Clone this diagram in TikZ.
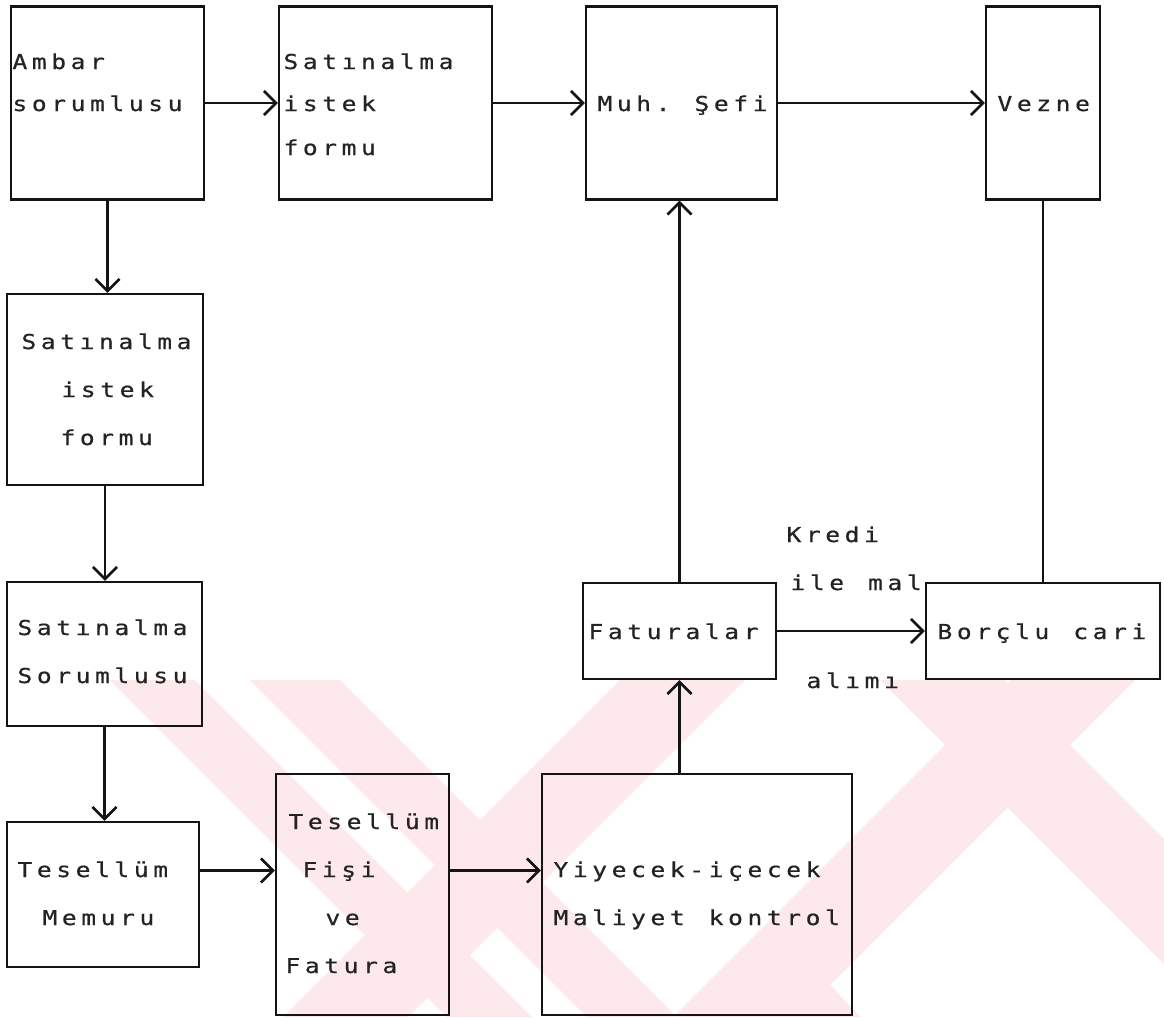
\documentclass[tikz,border=0pt]{standalone}
\usepackage{fontspec}
\usetikzlibrary{arrows.meta}
\newfontfamily\dotfont[FakeStretch=1.2,FakeBold=0.6]{DejaVu Sans Mono}

% fixed-pitch line: every character sits in a cell of equal width
\newlength\cellw \setlength\cellw{19.4pt}
\def\cellEnd{CELLEND}
\def\cells#1{\cellstep#1\cellEnd}
\def\cellstep#1{\ifx#1\cellEnd\else\makebox[\cellw][c]{#1}\expandafter\cellstep\fi}

\definecolor{ink}{RGB}{20,20,20}
\definecolor{txtink}{RGB}{35,35,35}
\definecolor{wmpink}{RGB}{253,232,236}

\tikzset{
  box/.style={draw=ink, line width=2.4pt, rectangle, inner sep=0pt},
  txt/.style={inner sep=0pt, anchor=west, text height=14pt, text depth=0pt,
              text=txtink, font={\dotfont\fontsize{20.5pt}{21pt}\selectfont}},
  arr/.style={draw=ink, line width=2.2pt,
              -{Straight Barb[length=12pt,width=24pt,line width=2.6pt]}},
  link/.style={draw=ink, line width=2.2pt},
}

\begin{document}
\begin{tikzpicture}[x=1pt,y=-1pt]
\fill[white] (0,0) rectangle (1164,1017);
\useasboundingbox (0,0) rectangle (1164,1017);

% faint background stripes
\begin{scope}
\clip (0,680) rectangle (1164,1017);
\fill[wmpink] (110,680) -- (195,680) -- (532,1017) -- (447,1017) -- cycle;
\fill[wmpink] (250,680) -- (340,680) -- (677,1017) -- (587,1017) -- cycle;
\fill[wmpink] (620,680) -- (745,680) -- (408,1017) -- (283,1017) -- cycle;
\fill[wmpink] (880,680) -- (1005,680) -- (1342,1017) -- (1217,1017) -- cycle;
\fill[wmpink] (1010,680) -- (1135,680) -- (798,1017) -- (673,1017) -- cycle;
\fill[wmpink] (780,930) -- (860,1017) -- (700,1017) -- cycle;
\end{scope}

% boxes
\node[box, minimum width=193pt, minimum height=193pt] (amb)  at (107.5,103) {};
\node[box, minimum width=213pt, minimum height=193pt] (sat1) at (385.5,103) {};
\node[box, minimum width=191pt, minimum height=193pt] (muh)  at (681.5,103) {};
\node[box, minimum width=114pt, minimum height=193pt] (vez)  at (1043,103) {};
\node[box, minimum width=196pt, minimum height=191pt] (sat2) at (105,389.5) {};
\node[box, minimum width=195pt, minimum height=144pt] (sats) at (104.5,654) {};
\node[box, minimum width=192pt, minimum height=145pt] (tes)  at (103,894.5) {};
\node[box, minimum width=173pt, minimum height=241pt] (fis)  at (362.5,894.5) {};
\node[box, minimum width=310pt, minimum height=241pt] (yiy)  at (697,894.5) {};
\node[box, minimum width=193pt, minimum height=96pt]  (fat)  at (679.5,631) {};
\node[box, minimum width=234pt, minimum height=96pt]  (bor)  at (1043,631) {};

% box texts
\node[txt] (ambA)  at (10,62)   {\cells{Ambar}};
\node[txt] (ambB)  at (10,104)  {\cells{sorumlusu}};
\node[txt] (sat1A) at (281,62)  {\cells{Satınalma}};
\node[txt] (sat1B) at (281,104) {\cells{istek}};
\node[txt] (sat1C) at (281,148) {\cells{formu}};
\node[txt] (muhA)  at (595,104) {\cells{Muh.~Şefi}};
\node[txt] (vezA)  at (995,104) {\cells{Vezne}};
\node[txt] (sat2A) at (19,342)  {\cells{Satınalma}};
\node[txt] (sat2B) at (59,390)  {\cells{istek}};
\node[txt] (sat2C) at (58,438)  {\cells{formu}};
\node[txt] (satsA) at (15,628)  {\cells{Satınalma}};
\node[txt] (satsB) at (15,676)  {\cells{Sorumlusu}};
\node[txt] (tesA)  at (15,870)  {\cells{Tesellüm}};
\node[txt] (tesB)  at (40,918)  {\cells{Memuru}};
\node[txt] (fisA)  at (286,822) {\cells{Tesellüm}};
\node[txt] (fisB)  at (300,870) {\cells{Fişi}};
\node[txt] (fisC)  at (323,918) {\cells{ve}};
\node[txt] (fisD)  at (283,966) {\cells{Fatura}};
\node[txt] (yiyA)  at (551,870) {\cells{Yiyecek-içecek}};
\node[txt] (yiyB)  at (551,918) {\cells{Maliyet~kontrol}};
\node[txt] (fatA)  at (586,632) {\cells{Faturalar}};
\node[txt] (borA)  at (935,632) {\cells{Borçlu~cari}};

% labels of the credit purchase link
\node[txt] (lblA) at (784,535) {\cells{Kredi}};
\node[txt] (lblB) at (788,583) {\cells{ile~mal}};
\node[txt] (lblC) at (804,681) {\cells{alımı}};

% connectors (kept strictly horizontal / vertical)
\draw[arr] (amb.east) -- (amb.east -| sat1.west);
\draw[arr] (sat1.east) -- (sat1.east -| muh.west);
\draw[arr] (muh.east) -- (muh.east -| vez.west);
\draw[arr] (amb.south) -- (amb.south |- sat2.north);
\draw[arr] (sat2.south) -- (sat2.south |- sats.north);
\draw[arr] (sats.south) -- (sats.south |- tes.north);
\draw[arr] ([yshift=24pt]tes.east) -- ([yshift=24pt]tes.east -| fis.west);
\draw[arr] ([yshift=24pt]fis.east) -- ([yshift=24pt]fis.east -| yiy.west);
\draw[arr] (yiy.north -| fat.south) -- (fat.south);
\draw[arr] (fat.north) -- (fat.north |- muh.south);
\draw[arr] (fat.east) -- (fat.east -| bor.west);
\draw[link] (vez.south) -- (vez.south |- bor.north);
\end{tikzpicture}
\end{document}
